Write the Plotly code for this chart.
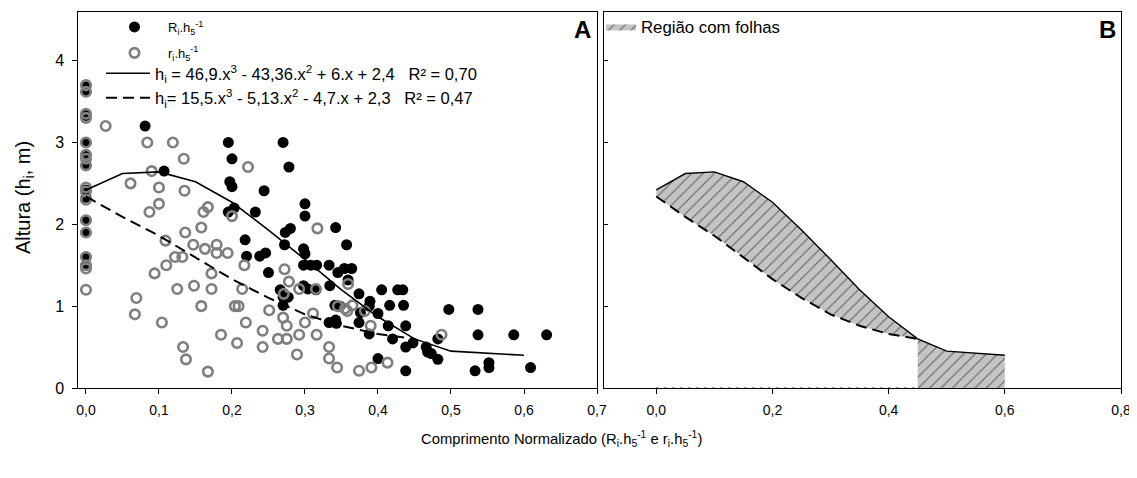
import plotly.graph_objects as go

# ---------------- data ----------------
R_x = [0, 0, 0, 0, 0, 0, 0, 0, 0, 0, 0, 0,
       0.081, 0.107, 0.195, 0.270, 0.200, 0.278, 0.197, 0.200, 0.244, 0.195,
       0.203, 0.232, 0.300, 0.300, 0.342, 0.280, 0.273, 0.272, 0.357, 0.298,
       0.300, 0.218, 0.220, 0.238, 0.246, 0.250, 0.298, 0.308, 0.316, 0.333,
       0.345, 0.354, 0.364, 0.359, 0.334, 0.298, 0.304, 0.315, 0.266, 0.270,
       0.277, 0.270, 0.341, 0.348, 0.333, 0.342, 0.343, 0.374, 0.374, 0.389,
       0.388, 0.405, 0.427, 0.434, 0.416, 0.435, 0.400, 0.376, 0.388, 0.414,
       0.438, 0.420, 0.438, 0.448, 0.466, 0.473, 0.482, 0.482, 0.468, 0.400,
       0.438, 0.497, 0.537, 0.537, 0.586, 0.631, 0.533, 0.552, 0.552, 0.609]
R_y = [3.70, 3.62, 3.33, 3.00, 2.85, 2.72, 2.42, 2.33, 2.05, 1.90, 1.60, 1.50,
       3.20, 2.65, 3.00, 3.00, 2.80, 2.70, 2.52, 2.46, 2.41, 2.15,
       2.20, 2.15, 2.25, 2.10, 1.96, 1.95, 1.90, 1.75, 1.75, 1.70,
       1.64, 1.81, 1.61, 1.61, 1.65, 1.41, 1.50, 1.50, 1.50, 1.50,
       1.41, 1.46, 1.46, 1.32, 1.25, 1.25, 1.21, 1.20, 1.20, 1.11,
       1.11, 1.01, 1.01, 1.00, 0.80, 0.83, 0.79, 1.15, 0.80, 1.06,
       1.00, 1.20, 1.20, 1.20, 1.01, 1.01, 0.91, 0.92, 0.66, 0.76,
       0.76, 0.60, 0.50, 0.55, 0.50, 0.42, 0.35, 0.60, 0.44, 0.36,
       0.21, 0.96, 0.96, 0.65, 0.65, 0.65, 0.21, 0.31, 0.25, 0.25]

r_x = [0] * 17 + [
       0.027, 0.084, 0.119, 0.134, 0.222, 0.061, 0.090, 0.100, 0.135, 0.100,
       0.087, 0.167, 0.161, 0.200, 0.158, 0.136, 0.109, 0.147, 0.163, 0.179,
       0.179, 0.194, 0.122, 0.132, 0.110, 0.094, 0.172, 0.217, 0.125, 0.148,
       0.172, 0.214, 0.069, 0.067, 0.104, 0.158, 0.204, 0.209, 0.219, 0.185,
       0.207, 0.133, 0.137, 0.167, 0.242, 0.242, 0.251, 0.263, 0.275, 0.270,
       0.275, 0.272, 0.278, 0.271, 0.292, 0.292, 0.289, 0.300, 0.311, 0.316,
       0.317, 0.315, 0.333, 0.333, 0.344, 0.345, 0.355, 0.365, 0.358, 0.359,
       0.382, 0.390, 0.374, 0.391, 0.413, 0.487]
r_y = [3.70, 3.62, 3.35, 3.30, 3.00, 2.85, 2.80, 2.72, 2.45, 2.40, 2.30, 2.05,
       1.90, 1.60, 1.50, 1.46, 1.20,
       3.20, 3.00, 3.00, 2.80, 2.70, 2.50, 2.65, 2.45, 2.41, 2.25,
       2.15, 2.21, 2.15, 2.10, 1.96, 1.90, 1.80, 1.75, 1.70, 1.75,
       1.65, 1.65, 1.60, 1.60, 1.50, 1.40, 1.40, 1.50, 1.21, 1.25,
       1.21, 1.21, 1.10, 0.90, 0.80, 1.00, 1.00, 1.00, 0.80, 0.65,
       0.55, 0.50, 0.35, 0.20, 0.70, 0.50, 0.95, 0.60, 0.60, 0.86,
       0.76, 1.45, 1.30, 1.15, 1.21, 0.65, 0.41, 0.80, 0.91, 0.65,
       1.95, 1.21, 0.50, 0.36, 0.25, 1.00, 0.97, 1.01, 0.94, 1.27,
       0.94, 0.76, 0.21, 0.25, 0.31, 0.65]

# fitted curves
solid_x = [0.0, 0.05, 0.10, 0.15, 0.20, 0.25, 0.30, 0.35, 0.40, 0.45, 0.50, 0.60]
solid_y = [2.42, 2.62, 2.64, 2.52, 2.27, 1.93, 1.57, 1.20, 0.87, 0.60, 0.45, 0.40]
dash_x = [0.0, 0.05, 0.10, 0.15, 0.20, 0.25, 0.30, 0.35, 0.40, 0.45]
dash_y = [2.34, 2.09, 1.86, 1.60, 1.33, 1.10, 0.90, 0.76, 0.66, 0.60]
baseline = 0.0

xticks_A = [0, 0.1, 0.2, 0.3, 0.4, 0.5, 0.6, 0.7]
xticks_B = [0, 0.2, 0.4, 0.6, 0.8]
yticks = [0, 1, 2, 3, 4]

label_R = "R<sub>i</sub>.h<sub>5</sub><sup>-1</sup>"
label_r = "r<sub>i</sub>.h<sub>5</sub><sup>-1</sup>"
label_solid = ("h<sub>i</sub> = 46,9.x<sup>3</sup> - 43,36.x<sup>2</sup> + 6.x + 2,4"
               "\u00a0\u00a0\u00a0R² = 0,70")
label_dash = ("h<sub>i</sub>= 15,5.x<sup>3</sup> - 5,13.x<sup>2</sup> - 4,7.x + 2,3"
              "\u00a0\u00a0\u00a0R² = 0,47")
label_region = "Região com folhas"

# ---------------- figure ----------------
W, H = 1137, 478
OFF = 8  # the page body has an 8 px margin; positions below are window pixels
FONT = "Liberation Sans, Arial, sans-serif"


def px(x):
    return (x - OFF) / W


def py(y):
    return 1 - (y - OFF) / H


fig = go.Figure()

fig.add_trace(go.Scatter(
    x=R_x, y=R_y, mode="markers", name=label_R, legend="legend", legendgroup="g1",
    marker=dict(symbol="circle", size=11, color="black", line=dict(width=0)),
    xaxis="x", yaxis="y", cliponaxis=False))
fig.add_trace(go.Scatter(
    x=r_x, y=r_y, mode="markers", name=label_r, legend="legend", legendgroup="g2",
    marker=dict(symbol="circle-open", size=9.5, color="#7f7f7f",
                line=dict(width=2.6, color="#7f7f7f")),
    xaxis="x", yaxis="y", cliponaxis=False))
fig.add_trace(go.Scatter(
    x=solid_x, y=solid_y, mode="lines", name=label_solid, legend="legend2",
    legendgroup="g3",
    line=dict(color="black", width=1.6), xaxis="x", yaxis="y"))
fig.add_trace(go.Scatter(
    x=dash_x, y=dash_y, mode="lines", name=label_dash, legend="legend2",
    legendgroup="g4",
    line=dict(color="black", width=2, dash="11px,6px"), xaxis="x", yaxis="y"))

# panel B: region between the curves
poly_x = solid_x + [solid_x[-1], dash_x[-1]] + dash_x[::-1]
poly_y = solid_y + [baseline, baseline] + dash_y[::-1]
fig.add_trace(go.Scatter(
    x=poly_x, y=poly_y, mode="lines", fill="toself", name=label_region,
    legend="legend3",
    fillcolor="#c4c4c4",
    fillpattern=dict(shape="/", bgcolor="#c4c4c4", fgcolor="black",
                     size=8, solidity=0.14),
    line=dict(width=0, color="rgba(0,0,0,0)"),
    xaxis="x2", yaxis="y2"))
fig.add_trace(go.Scatter(
    x=solid_x, y=solid_y, mode="lines", showlegend=False,
    line=dict(color="black", width=1.4), xaxis="x2", yaxis="y2"))
fig.add_trace(go.Scatter(
    x=dash_x, y=dash_y, mode="lines", showlegend=False,
    line=dict(color="black", width=2, dash="11px,6px"), xaxis="x2", yaxis="y2"))
fig.add_trace(go.Scatter(
    x=[dash_x[0], dash_x[-1]], y=[baseline, baseline], mode="lines", showlegend=False,
    line=dict(color="#555555", width=1.5, dash="2px,6px"), xaxis="x2", yaxis="y2",
    cliponaxis=False))

yrange = [0, 4.59]
axis_common = dict(showgrid=False, zeroline=False, showline=True, linecolor="black",
                   linewidth=1, mirror=True, ticks="outside", ticklen=5,
                   tickcolor="black", automargin=False)
xtickfont = dict(family=FONT, size=14, color="black")

fig.update_layout(
    width=W, height=H,
    margin=dict(l=0, r=0, t=0, b=0, autoexpand=False),
    paper_bgcolor="white", plot_bgcolor="white",
    separators=",.",
    font=dict(family=FONT, size=13, color="black"),
    xaxis=dict(domain=[px(78.3), px(597)], range=[-0.0105, 0.7],
               tickvals=xticks_A, tickformat=".1f", anchor="y",
               tickfont=xtickfont, ticklabelstandoff=4, **axis_common),
    yaxis=dict(domain=[py(388), py(12.3)], range=yrange, tickvals=yticks,
               anchor="x", tickfont=dict(family=FONT, size=16, color="black"),
               ticklabelstandoff=5, **axis_common),
    xaxis2=dict(domain=[px(604), px(1121)], range=[-0.09, 0.8],
                tickvals=xticks_B, tickformat=".1f", anchor="y2",
                tickfont=xtickfont, ticklabelstandoff=4, **axis_common),
    yaxis2=dict(domain=[py(388), py(12.3)], range=yrange, tickvals=yticks,
                anchor="x2", showticklabels=False,
                **{**axis_common, "ticks": "inside", "ticklen": 4}),
    legend=dict(x=px(101), y=py(12), xanchor="left", yanchor="top",
                bgcolor="rgba(0,0,0,0)", font=dict(family=FONT, size=13),
                traceorder="grouped", tracegroupgap=6, itemwidth=57),
    legend2=dict(x=px(101), y=py(56), xanchor="left", yanchor="top",
                 bgcolor="rgba(0,0,0,0)", font=dict(family=FONT, size=16.5),
                 traceorder="grouped", tracegroupgap=0, itemwidth=44),
    legend3=dict(x=px(601), y=py(9), xanchor="left", yanchor="top",
                 bgcolor="rgba(0,0,0,0)", font=dict(family=FONT, size=16.8),
                 itemwidth=30),
    annotations=[
        dict(text="<b>A</b>", x=px(582), y=py(30), xref="paper", yref="paper",
             xanchor="center", yanchor="middle", showarrow=False,
             font=dict(family=FONT, size=24, color="black")),
        dict(text="<b>B</b>", x=px(1107), y=py(30), xref="paper", yref="paper",
             xanchor="center", yanchor="middle", showarrow=False,
             font=dict(family=FONT, size=24, color="black")),
        dict(text="Altura (h<sub>i</sub>, m)", x=px(24), y=py(198), xref="paper",
             yref="paper", xanchor="center", yanchor="middle", showarrow=False,
             textangle=-90, font=dict(family=FONT, size=20, color="black")),
        dict(text=("Comprimento Normalizado (R<sub>i</sub>.h<sub>5</sub><sup>-1</sup>"
                   " e r<sub>i</sub>.h<sub>5</sub><sup>-1</sup>)"),
             x=px(561), y=py(439), xref="paper", yref="paper", xanchor="center",
             yanchor="middle", showarrow=False,
             font=dict(family=FONT, size=14.8, color="black")),
    ],
)

fig.write_html("out.html")
